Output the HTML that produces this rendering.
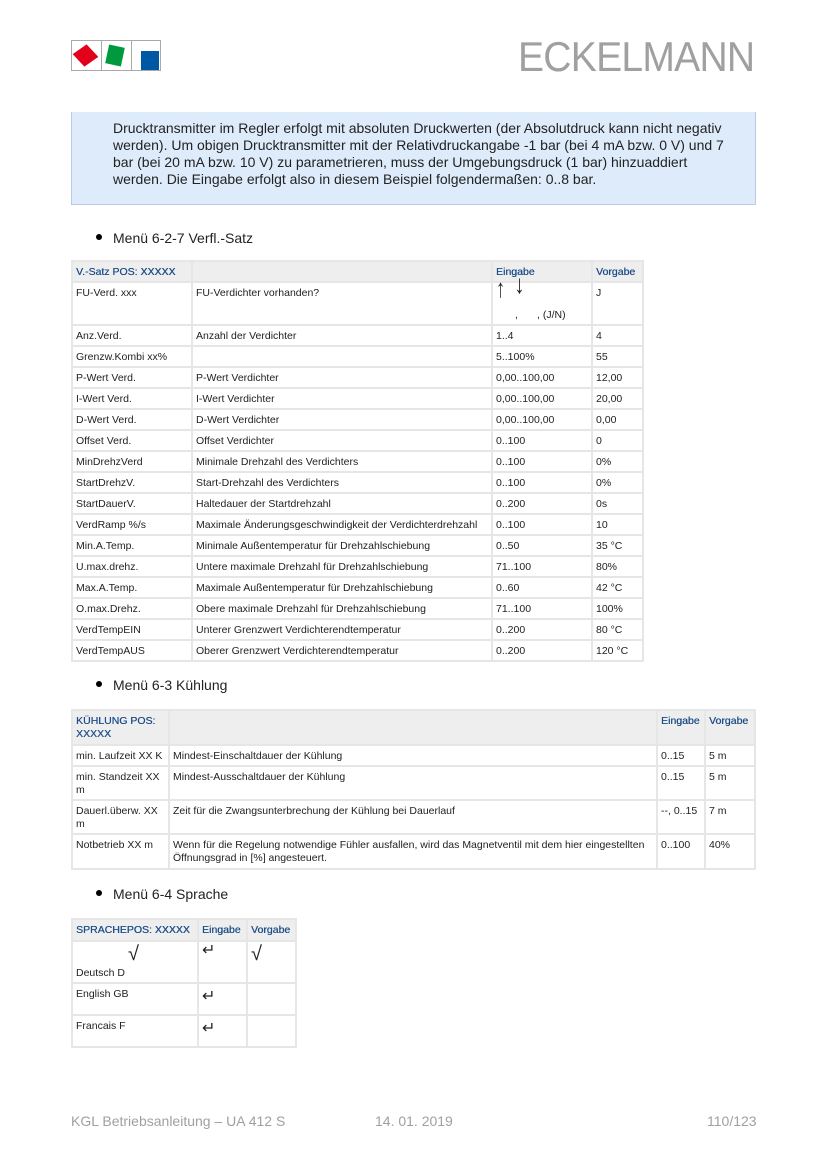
<!DOCTYPE html>
<html><head><meta charset="utf-8"><style>
body{margin:0;width:827px;height:1169px;position:relative;background:#fff;font-family:"Liberation Sans",sans-serif;color:#222;overflow:hidden}
.a{position:absolute}
table{position:absolute;border-collapse:collapse;table-layout:fixed;font-size:10.5px}
td{border:2px solid #e6e6e6;vertical-align:top;padding:4px 3px 0 3px;line-height:13px}
tr.h td{background:#eee;color:#1d4e89;text-shadow:0.3px 0 0 #1d4e89}
.bul{font-size:14px}
.bul:before{content:"";position:absolute;left:-17px;top:4px;width:6px;height:6px;border-radius:50%;background:#000}
</style></head><body>
<div class="a" style="left:71px;top:40px;width:90px;height:31px;border:1px solid #aaa;box-sizing:border-box"></div>
<div class="a" style="left:101px;top:40px;width:1px;height:31px;background:#aaa"></div>
<div class="a" style="left:131px;top:40px;width:1px;height:31px;background:#aaa"></div>
<div class="a" style="left:77px;top:47px;width:17px;height:17px;background:#e2001a;transform:rotate(-35deg) skewX(8deg)"></div>
<div class="a" style="left:107px;top:46px;width:16px;height:19px;background:#009a3e;transform:rotate(12deg)"></div>
<div class="a" style="left:141px;top:51px;width:18px;height:19px;background:#0057a4"></div>
<div class="a" style="left:518px;top:33px;font-size:42px;color:#a0a0a0;letter-spacing:-0.8px;transform:scaleX(0.93);transform-origin:left">ECKELMANN</div>
<div class="a" style="left:71px;top:112px;width:683px;height:92px;background:#deebfb;border:1px solid #b8cbe0;border-top:none"></div>
<div class="a" style="left:113px;top:120px;width:626px;font-size:14px;line-height:17px;color:#222">Drucktransmitter im Regler erfolgt mit absoluten Druckwerten (der Absolutdruck kann nicht negativ werden). Um obigen Drucktransmitter mit der Relativdruckangabe -1 bar (bei 4 mA bzw. 0 V) und 7 bar (bei 20 mA bzw. 10 V) zu parametrieren, muss der Umgebungsdruck (1 bar) hinzuaddiert werden. Die Eingabe erfolgt also in diesem Beispiel folgendermaßen: 0..8 bar.</div>

<div class="a bul" style="left:113px;top:230px">Menü 6-2-7 Verfl.-Satz</div>
<table style="left:71px;top:260px;width:571px">
<colgroup><col style="width:120px"><col style="width:300px"><col style="width:100px"><col style="width:51px"></colgroup>
<tr class="h" style="height:21px"><td>V.-Satz POS: XXXXX</td><td></td><td>Eingabe</td><td>Vorgabe</td></tr>
<tr style="height:43px"><td>FU-Verd. xxx</td><td>FU-Verdichter vorhanden?</td><td style="position:relative"><span style="position:absolute;left:1px;top:-1px;font-size:26px;transform:scaleX(0.7)">↑</span><span style="position:absolute;left:20px;top:-5px;font-size:26px;transform:scaleX(0.8)">↓</span><span style="position:absolute;left:22px;top:26px">,</span><span style="position:absolute;left:44px;top:26px">, (J/N)</span></td><td>J</td></tr>
<tr style="height:21px"><td>Anz.Verd.</td><td>Anzahl der Verdichter</td><td>1..4</td><td>4</td></tr>
<tr style="height:21px"><td>Grenzw.Kombi xx%</td><td></td><td>5..100%</td><td>55</td></tr>
<tr style="height:21px"><td>P-Wert Verd.</td><td>P-Wert Verdichter</td><td>0,00..100,00</td><td>12,00</td></tr>
<tr style="height:21px"><td>I-Wert Verd.</td><td>I-Wert Verdichter</td><td>0,00..100,00</td><td>20,00</td></tr>
<tr style="height:21px"><td>D-Wert Verd.</td><td>D-Wert Verdichter</td><td>0,00..100,00</td><td>0,00</td></tr>
<tr style="height:21px"><td>Offset Verd.</td><td>Offset Verdichter</td><td>0..100</td><td>0</td></tr>
<tr style="height:21px"><td>MinDrehzVerd</td><td>Minimale Drehzahl des Verdichters</td><td>0..100</td><td>0%</td></tr>
<tr style="height:21px"><td>StartDrehzV.</td><td>Start-Drehzahl des Verdichters</td><td>0..100</td><td>0%</td></tr>
<tr style="height:21px"><td>StartDauerV.</td><td>Haltedauer der Startdrehzahl</td><td>0..200</td><td>0s</td></tr>
<tr style="height:21px"><td>VerdRamp %/s</td><td>Maximale Änderungsgeschwindigkeit der Verdichterdrehzahl</td><td>0..100</td><td>10</td></tr>
<tr style="height:21px"><td>Min.A.Temp.</td><td>Minimale Außentemperatur für Drehzahlschiebung</td><td>0..50</td><td>35 °C</td></tr>
<tr style="height:21px"><td>U.max.drehz.</td><td>Untere maximale Drehzahl für Drehzahlschiebung</td><td>71..100</td><td>80%</td></tr>
<tr style="height:21px"><td>Max.A.Temp.</td><td>Maximale Außentemperatur für Drehzahlschiebung</td><td>0..60</td><td>42 °C</td></tr>
<tr style="height:21px"><td>O.max.Drehz.</td><td>Obere maximale Drehzahl für Drehzahlschiebung</td><td>71..100</td><td>100%</td></tr>
<tr style="height:21px"><td>VerdTempEIN</td><td>Unterer Grenzwert Verdichterendtemperatur</td><td>0..200</td><td>80 °C</td></tr>
<tr style="height:21px"><td>VerdTempAUS</td><td>Oberer Grenzwert Verdichterendtemperatur</td><td>0..200</td><td>120 °C</td></tr>
</table>

<div class="a bul" style="left:113px;top:677px">Menü 6-3 Kühlung</div>
<table style="left:71px;top:709px;width:683px">
<colgroup><col style="width:97px"><col style="width:488px"><col style="width:48px"><col style="width:50px"></colgroup>
<tr class="h" style="height:35px"><td>KÜHLUNG POS: XXXXX</td><td></td><td>Eingabe</td><td>Vorgabe</td></tr>
<tr style="height:21px"><td>min. Laufzeit XX K</td><td>Mindest-Einschaltdauer der Kühlung</td><td>0..15</td><td>5 m</td></tr>
<tr style="height:34px"><td>min. Standzeit XX m</td><td>Mindest-Ausschaltdauer der Kühlung</td><td>0..15</td><td>5 m</td></tr>
<tr style="height:34px"><td>Dauerl.überw. XX m</td><td>Zeit für die Zwangsunterbrechung der Kühlung bei Dauerlauf</td><td>--, 0..15</td><td>7 m</td></tr>
<tr style="height:35px"><td>Notbetrieb XX m</td><td>Wenn für die Regelung notwendige Fühler ausfallen, wird das Magnetventil mit dem hier eingestellten Öffnungsgrad in [%] angesteuert.</td><td>0..100</td><td>40%</td></tr>
</table>

<div class="a bul" style="left:113px;top:886px">Menü 6-4 Sprache</div>
<table style="left:71px;top:918px;width:224px">
<colgroup><col style="width:126px"><col style="width:49px"><col style="width:49px"></colgroup>
<tr class="h" style="height:22px"><td>SPRACHEPOS: XXXXX</td><td>Eingabe</td><td>Vorgabe</td></tr>
<tr style="height:42px"><td style="position:relative"><span style="position:absolute;left:3px;top:25px">Deutsch D</span><span style="position:absolute;left:55px;top:6px;font-size:20px">√</span></td><td style="position:relative"><span style="position:absolute;left:3px;top:2px;font-size:16px">↵</span></td><td style="position:relative"><span style="position:absolute;left:3px;top:6px;font-size:20px">√</span></td></tr>
<tr style="height:32px"><td>English GB</td><td style="position:relative"><span style="position:absolute;left:3px;top:6px;font-size:16px">↵</span></td><td></td></tr>
<tr style="height:32px"><td>Francais F</td><td style="position:relative"><span style="position:absolute;left:3px;top:6px;font-size:16px">↵</span></td><td></td></tr>
</table>

<div class="a" style="left:71px;top:1113px;font-size:14px;color:#a0a0a0">KGL Betriebsanleitung – UA 412 S</div>
<div class="a" style="left:375px;top:1113px;font-size:14px;color:#a0a0a0">14. 01. 2019</div>
<div class="a" style="left:707px;top:1113px;font-size:14px;color:#a0a0a0">110/123</div>
</body></html>
